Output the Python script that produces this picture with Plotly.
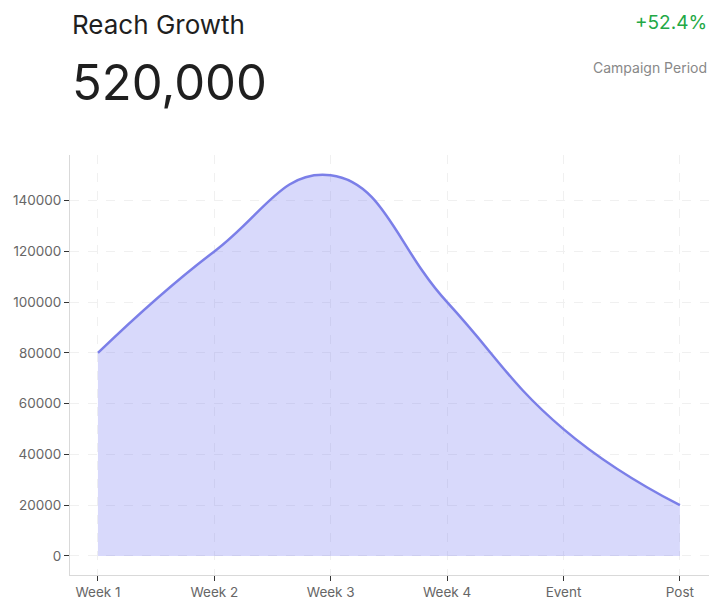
import plotly.graph_objects as go

# chart data
weeks = ["Week 1", "Week 2", "Week 3", "Week 4", "Event", "Post"]
reach = [80000, 120000, 150000, 100000, 50000, 20000]
y_ticks = [0, 20000, 40000, 60000, 80000, 100000, 120000, 140000]

headline_value = "520,000"
headline_change = "+52.4%"

FONT = "Inter"

fig = go.Figure()

fig.add_trace(
    go.Scatter(
        x=list(range(len(weeks))),
        y=reach,
        mode="lines",
        line=dict(color="#7b7fe8", width=2.5, shape="spline", smoothing=1.3),
        fill="tozeroy",
        fillcolor="rgba(99,102,241,0.25)",
        hoverinfo="x+y",
        showlegend=False,
    )
)

grid = dict(
    showgrid=True,
    gridcolor="#f0f0f0",
    griddash="dash",
    gridwidth=1,
    showline=True,
    linecolor="#d9d9d9",
    linewidth=1,
    ticks="outside",
    ticklen=5,
    tickcolor="#333333",
    tickfont=dict(family=FONT, size=13.5, color="#666666"),
    zeroline=False,
    automargin=False,
)

fig.update_xaxes(
    tickmode="array",
    tickvals=list(range(len(weeks))),
    ticktext=weeks,
    range=[-0.24, 5.25],
    **grid,
)
fig.update_yaxes(
    tickmode="array",
    tickvals=y_ticks,
    tickformat="d",
    range=[-7500, 158000],
    **grid,
)

# header texts
fig.add_annotation(
    text="Reach Growth", xref="paper", yref="paper", x=0, y=1,
    xanchor="left", yanchor="bottom", yshift=113, showarrow=False,
    font=dict(family=FONT, size=26, color="#1f1f1f"),
)
fig.add_annotation(
    text=headline_value, xref="paper", yref="paper", x=0, y=1,
    xanchor="left", yanchor="bottom", yshift=41, showarrow=False,
    font=dict(family=FONT, size=49, color="#1f1f1f"),
)
fig.add_annotation(
    text=headline_change, xref="paper", yref="paper", x=1, y=1,
    xanchor="right", yanchor="bottom", yshift=119, showarrow=False,
    font=dict(family=FONT, size=19, color="#22a845"),
)
fig.add_annotation(
    text="Campaign Period", xref="paper", yref="paper", x=1, y=1,
    xanchor="right", yanchor="bottom", yshift=77, showarrow=False,
    font=dict(family=FONT, size=14, color="#888888"),
)

fig.update_layout(
    width=719,
    height=609,
    margin=dict(l=62, r=18, t=147, b=42),
    paper_bgcolor="white",
    plot_bgcolor="white",
    font=dict(family=FONT),
)

fig.write_html("out.html")
